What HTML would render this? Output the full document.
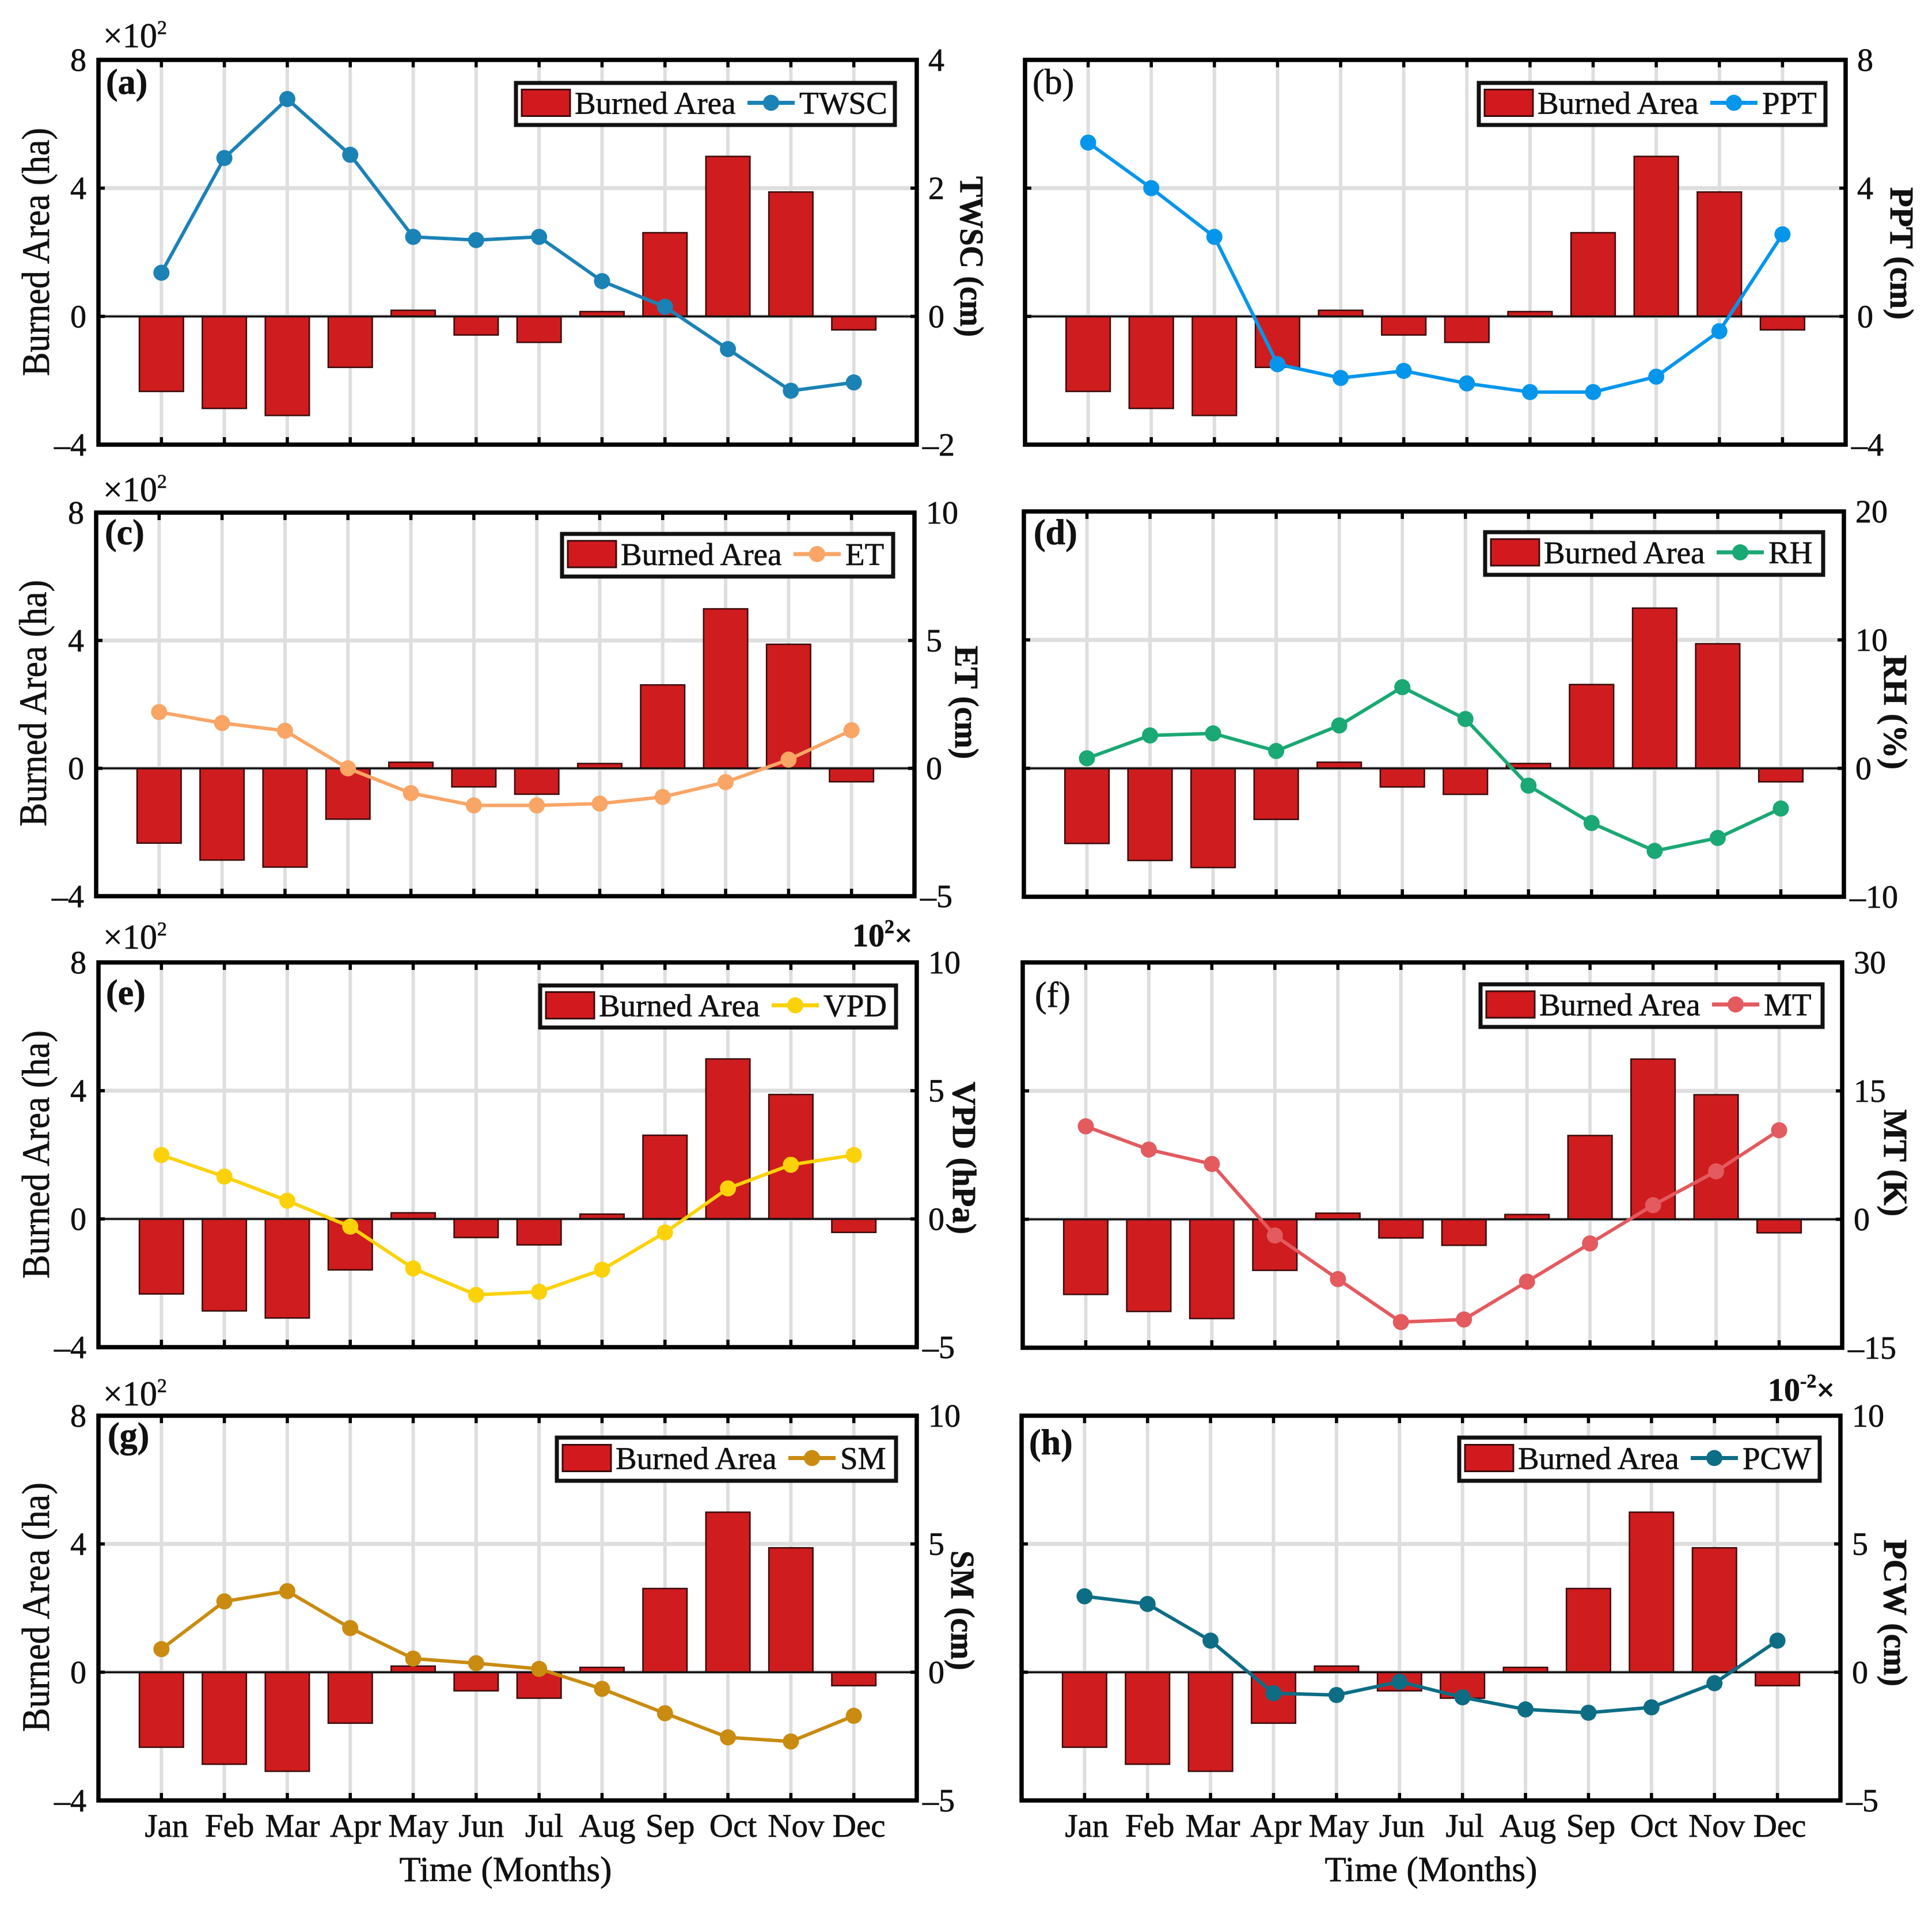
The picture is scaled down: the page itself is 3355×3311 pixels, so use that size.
<!DOCTYPE html>
<html lang="en">
<head>
<meta charset="utf-8">
<title>Monthly burned area and climate anomalies</title>
<style>
html,body{margin:0;padding:0;background:#fff}
svg{display:block}
text{font-family:"Liberation Serif",serif;fill:#111;stroke:#111;stroke-width:.7px}
</style>
</head>
<body>
<svg id="chart" xmlns="http://www.w3.org/2000/svg" width="3355" height="3311" viewBox="0 0 3355 3311"></svg>
<script>
const months = ['Jan','Feb','Mar','Apr','May','Jun','Jul','Aug','Sep','Oct','Nov','Dec'];
const burnedArea = [-2.34,-2.87,-3.09,-1.59,0.19,-0.58,-0.81,0.15,2.61,4.99,3.88,-0.42];
const leftTicks = [8,4,0,-4];
const twscValues = [0.68,2.47,3.39,2.52,1.24,1.19,1.24,0.55,0.15,-0.51,-1.16,-1.03];
const twscTicks = [4,2,0,-2];
const pptValues = [5.42,4.0,2.48,-1.49,-1.92,-1.70,-2.09,-2.36,-2.36,-1.88,-0.46,2.56];
const pptTicks = [8,4,0,-4];
const etValues = [2.2,1.77,1.47,0,-0.97,-1.45,-1.45,-1.38,-1.12,-0.54,0.34,1.49];
const etTicks = [10,5,0,-5];
const rhValues = [0.78,2.56,2.72,1.35,3.34,6.32,3.84,-1.35,-4.26,-6.43,-5.42,-3.13];
const rhTicks = [20,10,0,-10];
const vpdValues = [2.49,1.65,0.71,-0.3,-1.93,-2.96,-2.84,-1.98,-0.53,1.19,2.11,2.49];
const vpdTicks = [10,5,0,-5];
const mtValues = [10.86,8.14,6.46,-1.89,-6.98,-12,-11.7,-7.28,-2.82,1.65,5.6,10.4];
const mtTicks = [30,15,0,-15];
const smValues = [0.9,2.76,3.16,1.72,0.53,0.35,0.13,-0.65,-1.6,-2.54,-2.7,-1.7];
const smTicks = [10,5,0,-5];
const pcwValues = [2.96,2.66,1.23,-0.82,-0.89,-0.37,-0.98,-1.45,-1.58,-1.37,-0.43,1.23];
const pcwTicks = [10,5,0,-5];

const NS = 'http://www.w3.org/2000/svg';
const root = document.getElementById('chart');
function make(tag, attrs, parent, txt){
  const el = document.createElementNS(NS, tag);
  for (const k in attrs) el.setAttribute(k, attrs[k]);
  if (txt !== undefined) el.textContent = txt;
  parent.appendChild(el);
  return el;
}
function fmt(v){ return v < 0 ? '\u2013' + Math.abs(v) : String(v); }

function drawPanel(p){
  const g = make('g', {}, root);
  
  
  const L = p.box[0], R = p.box[1], T = p.box[2], B = p.box[3];
  const xScale = i => L + (i + 1) * (R - L) / 13;
  const yLeft = v => T + (8 - v) * (B - T) / 12;
  const rMax = p.ticks[0], rMin = p.ticks[p.ticks.length - 1];
  const yRight = v => T + (rMax - v) * (B - T) / (rMax - rMin);
  const barW = 0.7 * (R - L) / 13;

  const grid = make('g', {stroke:'#dedede','stroke-width':6,fill:'none'}, g);
  
  
  months.forEach((m, i) => {
    const gl = make('line', {x1:xScale(i), x2:xScale(i), y1:T, y2:B}, grid);
    
    
  });
  [4, 0].forEach(v => {
    const gl = make('line', {x1:L, x2:R, y1:yLeft(v), y2:yLeft(v), 'stroke-width':7}, grid);
    
    
  });

  burnedArea.forEach((v, i) => {
    const y0 = yLeft(0), y1 = yLeft(v);
    const bar = make('rect', {x:xScale(i) - barW / 2, y:Math.min(y0, y1), width:barW, height:Math.abs(y1 - y0), fill:'#cf1c1e', stroke:'#3a0b0c', 'stroke-width':2.5}, g);
    
    
  });

  const zero = make('line', {x1:L, x2:R, y1:yLeft(0), y2:yLeft(0), stroke:'#111', 'stroke-width':3.5}, g);
  
  

  const ticks = make('g', {stroke:'#000', fill:'none'}, g);
  
  
  months.forEach((m, i) => {
    const a = make('line', {x1:xScale(i), x2:xScale(i), y1:T, y2:T + 13, 'stroke-width':5.5}, ticks);
    
    
    const b = make('line', {x1:xScale(i), x2:xScale(i), y1:B, y2:B - 13, 'stroke-width':5.5}, ticks);
    
    
  });
  [4, 0].forEach(v => {
    const a = make('line', {x1:L, x2:L + 11, y1:yLeft(v), y2:yLeft(v), 'stroke-width':5.5}, ticks);
    
    
    const b = make('line', {x1:R, x2:R - 11, y1:yLeft(v), y2:yLeft(v), 'stroke-width':5.5}, ticks);
    
    
  });

  const frame = make('rect', {x:L, y:T, width:R - L, height:B - T, fill:'none', stroke:'#000', 'stroke-width':7.5}, g);
  
  

  const linePts = p.values.map((v, i) => xScale(i) + ',' + yRight(v)).join(' ');
  const line = make('polyline', {points:linePts, fill:'none', stroke:p.color, 'stroke-width':6, 'stroke-linejoin':'round'}, g);
  
  
  p.values.forEach((v, i) => {
    const pt = make('circle', {cx:xScale(i), cy:yRight(v), r:14, fill:p.color}, g);
    
    
  });

  if (p.leftLabels) {
    leftTicks.forEach(v => {
      const t = make('text', {x:L - 21, y:yLeft(v) + 19, 'font-size':56, 'text-anchor':'end'}, g, fmt(v));
      
      
    });
  }
  p.ticks.forEach(v => {
    const t = make('text', {x:R + (v < 0 ? 10 : 20), y:yRight(v) + 19, 'font-size':56}, g, fmt(v));
    
    
  });

  if (p.leftTitle) {
    const c = p.leftTitle;
    const t = make('text', {x:c[0], y:(c[1] + c[2]) / 2, 'font-size':68, 'text-anchor':'middle', textLength:c[2] - c[1], lengthAdjust:'spacingAndGlyphs', transform:'rotate(-90 ' + c[0] + ' ' + (c[1] + c[2]) / 2 + ')'}, g, 'Burned Area (ha)');
    
    
  }
  const rc = p.rightTitle;
  const rt = make('text', {x:rc[0], y:(rc[1] + rc[2]) / 2, 'font-size':58, 'font-weight':'bold', 'text-anchor':'middle', textLength:rc[2] - rc[1], lengthAdjust:'spacingAndGlyphs', transform:'rotate(90 ' + rc[0] + ' ' + (rc[1] + rc[2]) / 2 + ')'}, g, p.title);
  
  

  const pl = make('text', {x:p.tag[0], y:p.tag[1], 'font-size':62, 'font-weight':p.tag[2] ? 'bold' : 'normal'}, g, '(' + p.id + ')');
  
  

  if (p.mult) {
    const m = make('text', {x:179, y:p.mult, 'font-size':60}, g);
    
    
    make('tspan', {}, m, '\u00d710');
    make('tspan', {'font-size':34, dy:-23}, m, '2');
  }
  if (p.rightMult) {
    const c = p.rightMult;
    const m = make('text', {x:c[0], y:c[1], 'font-size':56, 'font-weight':'bold'}, g);
    
    
    make('tspan', {}, m, '10');
    make('tspan', {'font-size':34, dy:-23}, m, c[2]);
    make('tspan', {dy:23}, m, '\u00d7');
  }

  const lg = make('g', {}, g);
  
  
  const bx = p.legend[0], bxR = p.legend[1], by = p.legend[2], byB = p.legend[3];
  const bg = make('rect', {x:bx, y:by, width:bxR - bx, height:byB - by, fill:'#fff', stroke:'#111', 'stroke-width':7}, lg);
  
  
  const mid = (by + byB) / 2;
  const sw = make('rect', {x:bx + 10, y:mid - 25, width:84, height:46, fill:'#d21a1e', stroke:'#3a0b0c', 'stroke-width':3}, lg);
  
  
  const lb = make('text', {x:bx + 102, y:mid + 17, 'font-size':55}, lg, 'Burned Area');
  
  
  const ll = make('line', {x1:bx + 402, x2:bx + 484, y1:mid - 2, y2:mid - 2, stroke:p.color, 'stroke-width':7}, lg);
  
  
  const lm = make('circle', {cx:bx + 443, cy:mid - 2, r:14, fill:p.color}, lg);
  
  
  const ls = make('text', {x:bx + 492, y:mid + 17, 'font-size':55}, lg, p.series);
  
  

  if (p.monthLabels) {
    months.forEach((m, i) => {
      const t = make('text', {x:xScale(i) + p.monthShift, y:3189, 'font-size':57, 'text-anchor':'middle'}, g, m);
      
      
    });
    const tx = make('text', {x:p.monthLabels, y:3266, 'font-size':61, 'text-anchor':'middle'}, g, 'Time (Months)');
    
    
  }
}

drawPanel({id:'a', series:'TWSC', title:'TWSC (cm)', color:'#1b82b5', values:twscValues, ticks:twscTicks, box:[171,1592,104,772], leftLabels:true, leftTitle:[85,222,653], rightTitle:[1668,306,585], tag:[184,163,1], mult:82, legend:[896,1554,144,217]});
drawPanel({id:'b', series:'PPT', title:'PPT (cm)', color:'#0596ec', values:pptValues, ticks:pptTicks, box:[1780,3205,104,772], rightTitle:[3283,325,555], tag:[1793,163,0], legend:[2568,3170,144,217]});
drawPanel({id:'c', series:'ET', title:'ET (cm)', color:'#f9a566', values:etValues, ticks:etTicks, box:[167,1588,890,1556], leftLabels:true, leftTitle:[80,1007,1435], rightTitle:[1659,1121,1318], tag:[182,945,1], mult:870, legend:[976,1551,927,1001]});
drawPanel({id:'d', series:'RH', title:'RH (%)', color:'#1aa874', values:rhValues, ticks:rhTicks, box:[1778,3202,888,1557], rightTitle:[3272,1137,1336], tag:[1795,945,1], legend:[2579,3166,924,998]});
drawPanel({id:'e', series:'VPD', title:'VPD (hPa)', color:'#fbd20a', values:vpdValues, ticks:vpdTicks, box:[171,1592,1671,2339], leftLabels:true, leftTitle:[85,1789,2220], rightTitle:[1655,1878,2143], tag:[184,1744,1], mult:1647, rightMult:[1480,1643,'2'], legend:[938,1556,1711,1784]});
drawPanel({id:'f', series:'MT', title:'MT (K)', color:'#e35a5f', values:mtValues, ticks:mtTicks, box:[1776,3199,1671,2340], rightTitle:[3272,1926,2112], tag:[1797,1748,0], legend:[2571,3165,1709,1783]});
drawPanel({id:'g', series:'SM', title:'SM (cm)', color:'#c98b10', values:smValues, ticks:smTicks, box:[171,1592,2458,3126], leftLabels:true, leftTitle:[85,2574,3007], rightTitle:[1652,2692,2900], tag:[187,2513,1], mult:2440, legend:[967,1556,2496,2571], monthLabels:878, monthShift:9});
drawPanel({id:'h', series:'PCW', title:'PCW (cm)', color:'#0d6d85', values:pcwValues, ticks:pcwTicks, box:[1774,3196,2458,3126], rightTitle:[3272,2673,2928], tag:[1787,2525,1], rightMult:[3070,2432,'-2'], legend:[2534,3160,2496,2571], monthLabels:2485, monthShift:4});
</script>
</body>
</html>
